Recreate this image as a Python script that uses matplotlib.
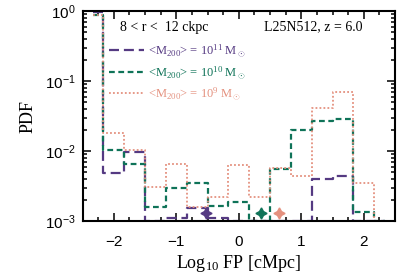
import numpy as np
import matplotlib
matplotlib.use("Agg")
import matplotlib.pyplot as plt
from matplotlib.ticker import FixedLocator, MultipleLocator, LogLocator, NullFormatter

plt.rcParams['mathtext.fontset'] = 'custom'
plt.rcParams['mathtext.rm'] = 'Liberation Serif'
plt.rcParams['mathtext.it'] = 'Liberation Serif:italic'
plt.rcParams['mathtext.sf'] = 'Liberation Sans'

# bin centres in log10 FP [cMpc], width 1/3 dex
centers = [-2.333, -2.0, -1.667, -1.333, -1.0, -0.667, -0.333, 0.0,
           0.333, 0.667, 1.0, 1.333, 1.667, 2.0, 2.333]

# PDF values (1e-3 = at/below the bottom of the plot)
pdf_m11 = [0.97, 0.0048, 0.0097, 0.001, 0.0011, 0.00155, 0.0011, 0.001,
           0.001, 0.001, 0.001, 0.0040, 0.0044, 0.001, 0.001]
pdf_m10 = [0.89, 0.0105, 0.0066, 0.0016, 0.0030, 0.0035, 0.00165, 0.0019,
           0.001, 0.0056, 0.0202, 0.0268, 0.029, 0.00134, 0.001]
pdf_m9 = [0.87, 0.018, 0.0105, 0.0031, 0.0066, 0.0016, 0.0022, 0.0064,
          0.0022, 0.0057, 0.0044, 0.041, 0.070, 0.0035, 0.001]

# median markers
med_x = [-0.52, 0.36, 0.65]
med_y = [0.0013, 0.0013, 0.0013]

labels = [r'<M$_{200}$> = 10$^{11}$ M$_\odot$',
          r'<M$_{200}$> = 10$^{10}$ M$_\odot$',
          r'<M$_{200}$> = 10$^{9}$ M$_\odot$']
colors = ['#553a82', '#0f7358', '#e4917f']
styles = [(0, (4.5, 2.2)), (0, (2.6, 1.6)), (0, (1, 1.2))]
widths = [1.6, 1.6, 1.3]

fig = plt.figure(figsize=(4.15, 2.77), dpi=100)
ax = fig.add_axes([0.199, 0.202, 0.753, 0.758])

series = [pdf_m11, pdf_m10, pdf_m9]
for vals, c, ls, lw, lab in zip(series, colors, styles, widths, labels):
    ax.step(centers, vals, where='mid', color=c, linestyle=ls, lw=lw, label=lab)

for x, y, c in zip(med_x, med_y, colors):
    ax.plot(x, y, marker=(4, 1, 0), ms=8, color=c, ls='none', clip_on=False)

ax.set_yscale('log')
ax.set_xlim(-2.5, 2.5)
ax.set_ylim(1e-3, 1.0)

ax.xaxis.set_major_locator(MultipleLocator(1))
ax.xaxis.set_minor_locator(MultipleLocator(0.25))
ax.yaxis.set_major_locator(FixedLocator([1e-3, 1e-2, 1e-1, 1]))
ax.yaxis.set_minor_locator(LogLocator(base=10, subs=np.arange(2, 10)))
ax.yaxis.set_minor_formatter(NullFormatter())
ax.set_yticklabels([r'$\mathsf{10^{-3}}$', r'$\mathsf{10^{-2}}$',
                    r'$\mathsf{10^{-1}}$', r'$\mathsf{10^{0}}$'])

for lab in ax.get_xticklabels() + ax.get_yticklabels():
    lab.set_family('Liberation Sans')
    lab.set_fontsize(11)

ax.tick_params(which='both', direction='in', top=True, right=True, width=1.1)
ax.tick_params(which='major', length=6, pad=5)
ax.tick_params(axis='x', which='major', pad=10)
ax.tick_params(which='minor', length=3)
for s in ax.spines.values():
    s.set_linewidth(1.5)

ax.set_xlabel(r'Log$_{10}$ FP [cMpc]', family='Liberation Serif', fontsize=13, labelpad=3)
ax.set_ylabel('PDF', family='Liberation Serif', fontsize=13, labelpad=6)

ax.text(0.12, 0.955, '8 < r <  12 ckpc', transform=ax.transAxes,
        family='Liberation Serif', fontsize=10, va='top')
ax.text(0.58, 0.955, 'L25N512, z = 6.0', transform=ax.transAxes,
        family='Liberation Serif', fontsize=10, va='top')

leg = ax.legend(loc='upper left', bbox_to_anchor=(0.065, 0.88), frameon=False,
                prop={'family': 'Liberation Serif', 'size': 9},
                handlelength=2.8, handletextpad=0.3, labelspacing=0.35,
                labelcolor=colors, borderpad=0)

fig.savefig('out.png', dpi=100)
